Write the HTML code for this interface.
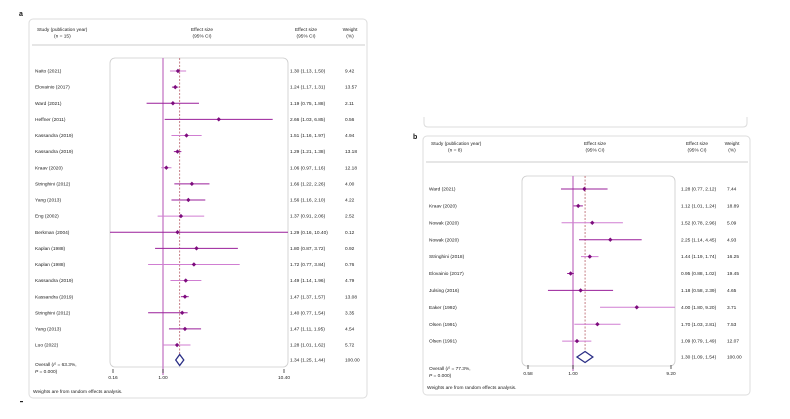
<!DOCTYPE html>
<html><head><meta charset="utf-8">
<style>
html,body{margin:0;padding:0;background:#fff;}
svg{display:block;font-family:"Liberation Sans",sans-serif;}
text{fill:#222;font-size:4.8px;}
</style></head>
<body>
<svg id="chart" width="790" height="419" viewBox="0 0 790 419"></svg>
<script>
// Panel a data
const aStudies=["Naito (2021)","Elovainio (2017)","Ward (2021)","Heffner (2011)","Kassandra (2019)","Kassandra (2019)","Kraav (2020)","Stringhini (2012)","Yang (2013)","Eng (2002)","Berkman (2004)","Kaplan (1988)","Kaplan (1988)","Kassandra (2019)","Kassandra (2019)","Stringhini (2012)","Yang (2013)","Luo (2022)"];
const aEst=[1.30,1.24,1.19,2.66,1.51,1.29,1.06,1.66,1.56,1.37,1.29,1.80,1.72,1.49,1.47,1.40,1.47,1.28];
const aLo=[1.13,1.17,0.75,1.03,1.16,1.21,0.97,1.22,1.16,0.91,0.16,0.87,0.77,1.14,1.37,0.77,1.11,1.01];
const aHi=[1.50,1.31,1.88,6.85,1.97,1.38,1.16,2.26,2.10,2.06,10.40,3.72,3.84,1.96,1.57,1.54,1.95,1.62];
const aWeight=["9.42","13.57","2.11","0.56","4.94","13.18","12.18","4.00","4.22","2.52","0.12","0.92","0.76","4.79","13.08","3.35","4.54","5.72"];
const aLight=[1,0,0,0,1,0,1,0,0,1,0,0,1,1,0,0,0,1];
const aOverall=[1.34,1.25,1.44];
const aTicks=[0.16,1.00,10.40];
// Panel b data
const bStudies=["Ward (2021)","Kraav (2020)","Nowak (2020)","Nowak (2020)","Stringhini (2018)","Elovainio (2017)","Julsing (2016)","Eaker (1992)","Olsen (1991)","Olsen (1991)"];
const bEst=[1.28,1.12,1.52,2.25,1.44,0.95,1.18,4.00,1.70,1.09];
const bLo=[0.77,1.01,0.78,1.14,1.19,0.88,0.58,1.80,1.03,0.79];
const bHi=[2.12,1.24,2.96,4.45,1.74,1.02,2.39,9.20,2.81,1.49];
const bWeight=["7.44","18.89","5.09","4.93","16.25","19.45","4.65","3.71","7.53","12.07"];
const bLight=[0,0,1,0,1,0,0,1,1,1];
const bOverall=[1.30,1.09,1.54];
const bTicks=[0.58,1.00,9.20];

const NS="http://www.w3.org/2000/svg";
const svg=document.getElementById('chart');
function mk(tag,attrs,parent,txt){const e=document.createElementNS(NS,tag);for(const k in attrs)e.setAttribute(k,attrs[k]);if(txt!==undefined)e.textContent=txt;(parent||svg).appendChild(e);return e;}
function fmt(v){return v.toFixed(2);}

function panel(cfg){
  const g=mk('g',{});
  
  
  const o=cfg.outer;
  const ob=mk('rect',{x:o[0],y:o[1],width:o[2]-o[0],height:o[3]-o[1],rx:4,fill:'#fff',stroke:'#ddd','stroke-width':1},g);
  
  
  const lab=mk('text',{x:cfg.labelPos[0],y:cfg.labelPos[1],style:'font-size:7px;font-weight:bold;fill:#111'},g,cfg.label);
  
  
  const h1=mk('text',{x:o[0]+8,y:cfg.hdrY},g,'Study (publication year)');
  
  
  mk('text',{x:o[0]+25,y:cfg.hdrY+6.5},g,'(n = '+cfg.nText+')');
  const h2=mk('text',{x:cfg.midX,y:cfg.hdrY,'text-anchor':'middle'},g,'Effect size');
  
  
  mk('text',{x:cfg.midX,y:cfg.hdrY+6.5,'text-anchor':'middle'},g,'(95% CI)');
  const h3=mk('text',{x:cfg.effX+16,y:cfg.hdrY,'text-anchor':'middle'},g,'Effect size');
  
  
  mk('text',{x:cfg.effX+16,y:cfg.hdrY+6.5,'text-anchor':'middle'},g,'(95% CI)');
  const h4=mk('text',{x:cfg.wX+5,y:cfg.hdrY,'text-anchor':'middle'},g,'Weight');
  
  
  mk('text',{x:cfg.wX+5,y:cfg.hdrY+6.5,'text-anchor':'middle'},g,'(%)');
  mk('line',{x1:o[0]+3,x2:o[2]-2,y1:cfg.hdrLine,y2:cfg.hdrLine,stroke:'#ccc','stroke-width':1},g);
  const ib=cfg.inner;
  const inb=mk('rect',{x:ib[0],y:ib[1],width:ib[2]-ib[0],height:ib[3]-ib[1],rx:5,fill:'none',stroke:'#ccc','stroke-width':0.8},g);
  
  
  const x=v=>cfg.x1+cfg.k*Math.log(v);
  const cl=v=>Math.max(ib[0],Math.min(ib[2],v));
  const y=i=>cfg.y0+i*cfg.dy;
  const nl=mk('line',{x1:x(1),x2:x(1),y1:ib[1],y2:cfg.axisY+4,stroke:'#c77ac7','stroke-width':1.3},g);
  
  
  const ovx=x(cfg.ov[0]);
  const dl=mk('line',{x1:ovx,x2:ovx,y1:ib[1],y2:ib[3]-10,stroke:'#b8606a','stroke-width':0.8,'stroke-dasharray':'2,1.5'},g);
  
  
  cfg.studies.forEach((s,i)=>{
    const yy=y(i);
    const t=mk('text',{x:o[0]+6,y:yy+1.6},g,s);
    
    
    const col=cfg.light[i]?'#d07ed2':'#9a1f9a';
    const ci=mk('line',{x1:cl(x(cfg.lo[i])),x2:cl(x(cfg.hi[i])),y1:yy,y2:yy,stroke:col,'stroke-width':1},g);
    
    
    const px=x(cfg.est[i]);
    const pt=mk('path',{d:`M${px-2.2},${yy}L${px},${yy-2.2}L${px+2.2},${yy}L${px},${yy+2.2}Z`,fill:'#7d0c7d'},g);
    
    
    const et=mk('text',{x:cfg.effX,y:yy+1.6},g,fmt(cfg.est[i])+' ('+fmt(cfg.lo[i])+', '+fmt(cfg.hi[i])+')');
    
    
    const wt=mk('text',{x:cfg.wX,y:yy+1.6},g,cfg.w[i]);
    
    
  });
  const oy=cfg.ovY;
  const l=x(cfg.ov[1]),r=x(cfg.ov[2]),c=x(cfg.ov[0]);
  const dm=mk('path',{d:`M${l},${oy}L${c},${oy-5.5}L${r},${oy}L${c},${oy+5.5}Z`,fill:'#fff',stroke:'#2b2f86','stroke-width':1.3},g);
  
  
  const ot=mk('text',{x:cfg.effX,y:oy+1.6},g,fmt(cfg.ov[0])+' ('+fmt(cfg.ov[1])+', '+fmt(cfg.ov[2])+')');
  
  
  mk('text',{x:cfg.wX,y:oy+1.6},g,'100.00');
  const ol=mk('text',{x:o[0]+6,y:cfg.ovLabY},g);
  
  
  ol.innerHTML='Overall (<tspan font-style="italic">I</tspan><tspan dy="-1.5" style="font-size:3px">2</tspan><tspan dy="1.5"> = '+cfg.i2+',</tspan>';
  mk('text',{x:o[0]+6,y:cfg.ovLabY+7},g).innerHTML='<tspan font-style="italic">P</tspan> = 0.000)';
  cfg.ticks.forEach((v,i)=>{
    const tx=i===0?ib[0]+cfg.tickPad[0]:(i===cfg.ticks.length-1?ib[2]-cfg.tickPad[1]:x(v));
    mk('line',{x1:tx,x2:tx,y1:cfg.axisY-2,y2:cfg.axisY+2,stroke:'#333','stroke-width':0.8},g);
    const tl=mk('text',{x:tx,y:cfg.axisY+8,'text-anchor':'middle'},g,fmt(v));
    
    
  });
  const fn=mk('text',{x:o[0]+4,y:cfg.noteY},g,'Weights are from random effects analysis.');
  
  
}

mk('path',{d:'M424,117 L424,123 Q424,127 428,127 L743,127 Q747,127 747,123 L747,117',fill:'none',stroke:'#ddd','stroke-width':1});
mk('rect',{x:20,y:401,width:3,height:1.2,fill:'#222'});

panel({name:'panel-a',label:'a',labelPos:[19,16],outer:[29,19,367,398],nText:'15',
  hdrY:31,hdrLine:45,midX:202,effX:290,wX:345,inner:[110,58,288,367],
  x1:163,k:57,y0:71,dy:16.12,studies:aStudies,est:aEst,lo:aLo,hi:aHi,w:aWeight,light:aLight,
  ov:aOverall,ovY:360,ovLabY:366,i2:'63.3%',ticks:aTicks,tickPad:[3,4],axisY:371,noteY:393});
panel({name:'panel-b',label:'b',labelPos:[413,139],outer:[423,136,750,395],nText:'8',
  hdrY:145,hdrLine:162,midX:595,effX:681,wX:727,inner:[522,176,675,366],
  x1:573,k:46,y0:189,dy:16.9,studies:bStudies,est:bEst,lo:bLo,hi:bHi,w:bWeight,light:bLight,
  ov:bOverall,ovY:357,ovLabY:370,i2:'77.3%',ticks:bTicks,tickPad:[6,4],axisY:367,noteY:389});
</script>
</body></html>
